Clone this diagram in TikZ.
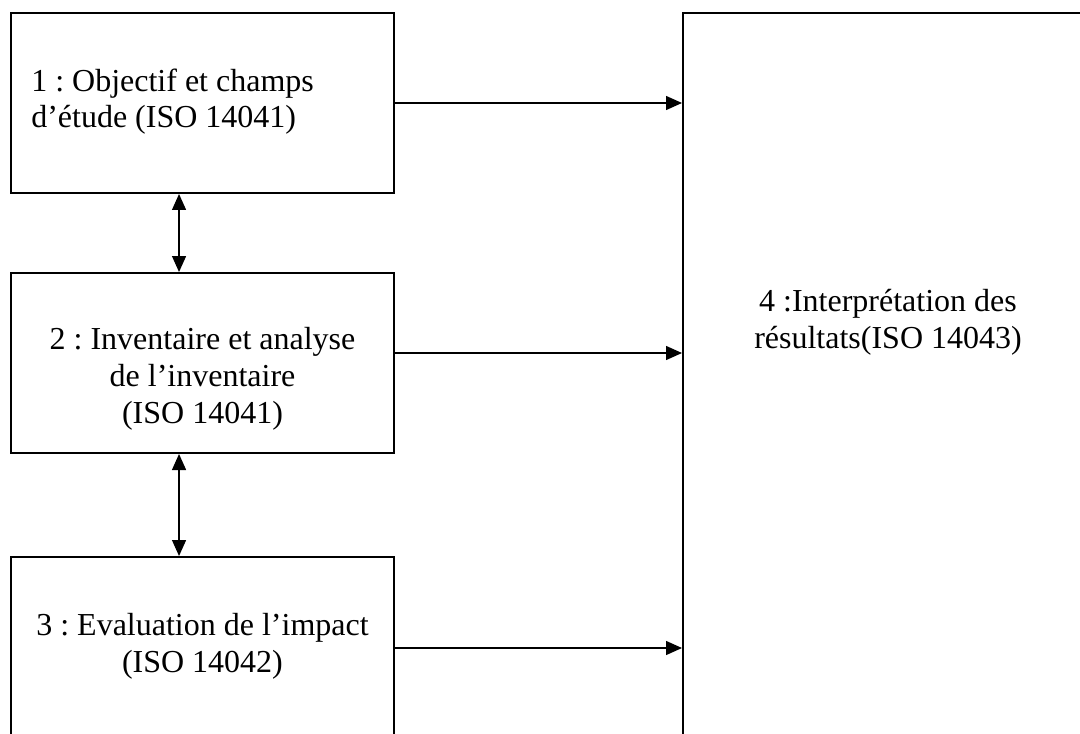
\documentclass[tikz,border=0pt]{standalone}
\usepackage{fontspec}
\setmainfont{Liberation Serif}
\usetikzlibrary{arrows.meta,fit}
\frenchspacing

\tikzset{
  box/.style={draw=black, line width=1.5pt, inner sep=0pt, fill=none},
  link/.style={line width=1pt, -{Triangle[length=12pt,width=10.5pt]}},
  twoway/.style={line width=1pt, {Triangle[length=12pt,width=10.5pt]}-{Triangle[length=12pt,width=10.5pt]}},
  txt/.style={inner sep=0pt, font=\fontsize{24}{27.6}\selectfont}
}

\begin{document}
\begin{tikzpicture}[x=0.75pt,y=-0.75pt]
  \useasboundingbox (0,0) rectangle (1080,734);
  \clip (0,0) rectangle (1080,734);
  \fill[white] (0,0) rectangle (1080,734);

  % the four stage boxes (the last two run past the lower edge)
  \node[box, fit={(11,13) (394,193)}] (b1) {};
  \node[box, fit={(11,273) (394,453)}] (b2) {};
  \node[box, fit={(11,557) (394,739)}] (b3) {};
  \node[box, fit={(683,13) (1120,760)}] (b4) {};

  % labels, placed by the baseline of their last line
  \node[txt, anchor=base west, align=left] (t1) at (31,128)
    {1 : Objectif et champs\\d’étude (ISO 14041)};
  \node[txt, anchor=base, align=center] (t2) at (202.5,423)
    {2 : Inventaire et analyse\\de l’inventaire\\(ISO 14041)};
  \node[txt, anchor=base, align=center] (t3) at (202.5,672)
    {3 : Evaluation de l’impact\\(ISO 14042)};
  \node[txt, anchor=base, align=center] (t4) at (888,348)
    {4 :Interprétation des\\résultats(ISO 14043)};

  % links towards the interpretation stage
  \draw[link] (b1.east) -- (b1.east -| b4.west);
  \draw[link] ([yshift=7.5pt]b2.east) -- ([yshift=7.5pt]b2.east -| b4.west);
  \draw[link] (b3.east) -- (b3.east -| b4.west);

  % two-way links between the successive stages
  \draw[twoway] ([xshift=-17.6pt]b1.south) -- ([xshift=-17.6pt]b2.north);
  \draw[twoway] ([xshift=-17.6pt]b2.south) -- ([xshift=-17.6pt]b3.north);
\end{tikzpicture}
\end{document}
